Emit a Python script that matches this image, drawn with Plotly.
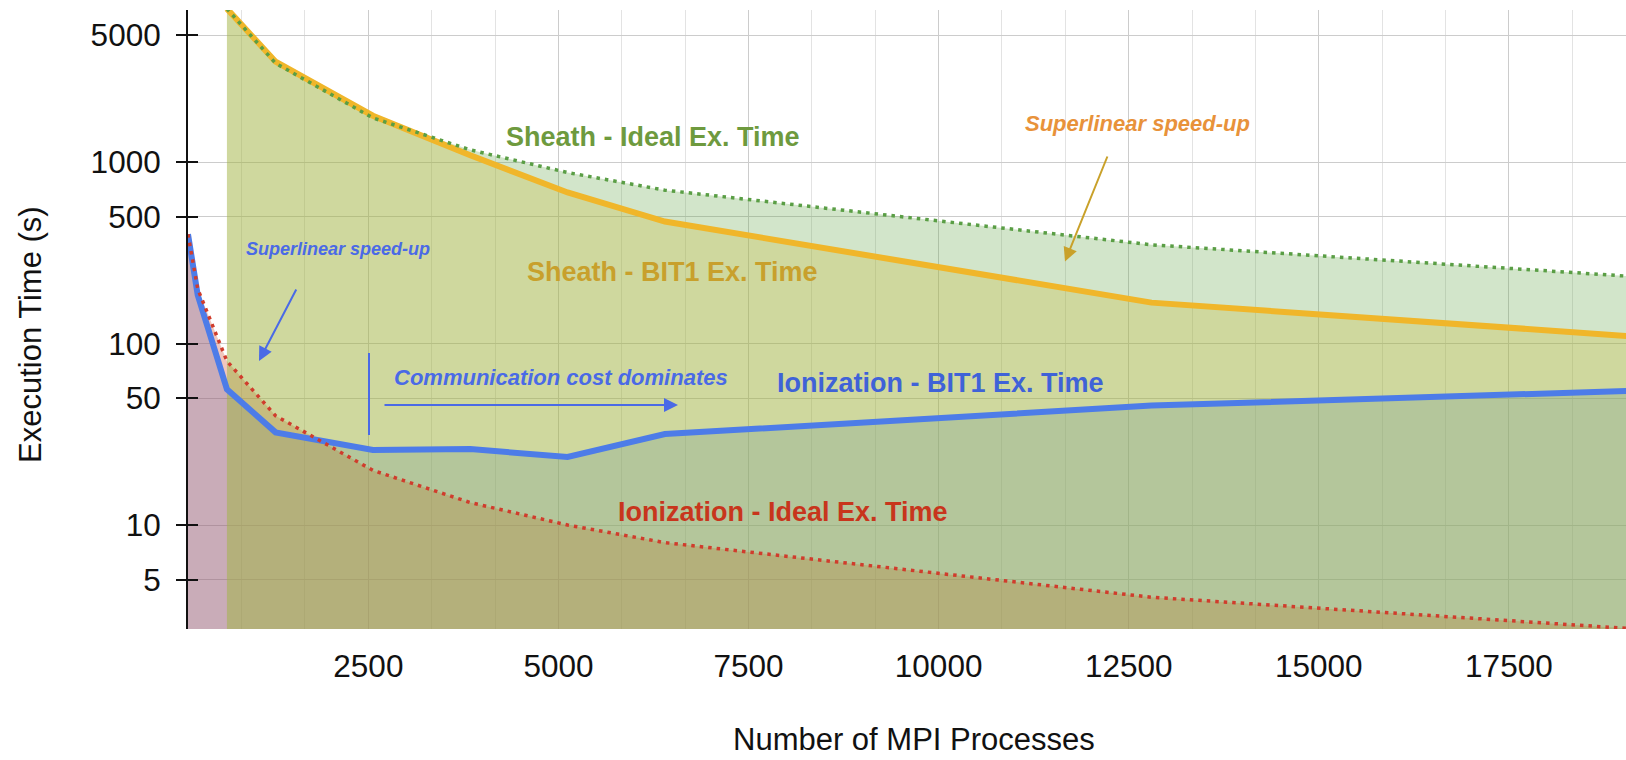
import plotly.graph_objects as go

# ---- data ----
ion_x = [128, 256, 640, 1280, 2560, 3840, 5120, 6400, 12800, 19200]
ion_bit1 = [400, 185, 56, 32.4, 25.9, 26.2, 23.7, 31.7, 45.5, 55]
ion_ideal = [400, 200, 80, 40, 20, 13.3, 10, 8, 4, 2.67]

sheath_x = [640, 1280, 2560, 3840, 5120, 6400, 12800, 19200]
sheath_bit1 = [7000, 3570, 1800, 1090, 680, 470, 168, 109]
sheath_ideal = [7000, 3500, 1750, 1167, 875, 700, 350, 233]

y_ticks = [5, 10, 50, 100, 500, 1000, 5000]
x_ticks = [2500, 5000, 7500, 10000, 12500, 15000, 17500]

FONT = "Liberation Sans, Arial, sans-serif"
TICK_SIZE = 31.5

series = [
    (ion_x, ion_bit1, "rgba(74,134,232,0.3)", "#4d7ce8", 6, "solid"),
    (ion_x, ion_ideal, "rgba(204,65,37,0.3)", "#d03c2c", 3.5, "3.5px,5px"),
    (sheath_x, sheath_bit1, "rgba(241,194,50,0.3)", "#f0b62a", 6, "solid"),
    (sheath_x, sheath_ideal, "rgba(106,168,79,0.3)", "#5a9e45", 3.5, "3.5px,5px"),
]

fig = go.Figure()
# fills first
for xs, ys, fc, lc, lw, dash in series:
    fig.add_trace(go.Scatter(x=xs, y=ys, mode="lines", fill="tozeroy",
                             fillcolor=fc, line=dict(width=0, color=fc),
                             hoverinfo="skip", showlegend=False))
# lines on top (overlay axis with same range)
for xs, ys, fc, lc, lw, dash in series:
    fig.add_trace(go.Scatter(x=xs, y=ys, mode="lines", yaxis="y2",
                             line=dict(width=lw, color=lc, dash=dash),
                             showlegend=False))

XR = [128, 19040]
YR = [0.4271, 3.8377]

fig.update_layout(
    width=1626, height=760,
    margin=dict(l=188, r=0, t=10, b=131),
    paper_bgcolor="white", plot_bgcolor="white",
    font=dict(family=FONT, color="#111111", size=30),
    showlegend=False,
    xaxis=dict(range=XR, tickvals=x_ticks, ticktext=[str(v) for v in x_ticks],
               showgrid=True, gridcolor="#cccccc", gridwidth=1.3,
               minor=dict(tick0=0, dtick=2500 / 3, showgrid=True,
                          gridcolor="#e3e3e3", gridwidth=1.3),
               ticks="", ticklabelstandoff=15, zeroline=False, showline=False,
               tickfont=dict(size=TICK_SIZE, family=FONT, color="#111111")),
    yaxis=dict(type="log", range=YR, tickvals=y_ticks,
               ticktext=[str(v) for v in y_ticks],
               showgrid=True, gridcolor="#cccccc", gridwidth=1.3,
               ticks="outside", ticklen=10, tickwidth=2, tickcolor="#111111",
               showline=True, linecolor="#111111", linewidth=2,
               ticklabelstandoff=9, zeroline=False,
               tickfont=dict(size=TICK_SIZE, family=FONT, color="#111111")),
    yaxis2=dict(type="log", range=YR, overlaying="y", anchor="x", side="left",
                tickvals=y_ticks, showticklabels=False, showgrid=False,
                ticks="inside", ticklen=10, tickwidth=2, tickcolor="#111111",
                showline=False, zeroline=False),
)

def px2paper(px, py):
    return (px - 188) / 1438, (629 - py) / 619

def px2data(px, py):
    x = XR[0] + (px - 188) * (XR[1] - XR[0]) / 1438
    y = YR[1] - (py - 10) * (YR[1] - YR[0]) / 619
    return x, y

annots = []

def label(text, px, py, size, color, italic=False):
    xp, yp = px2paper(px, py)
    t = "<b>" + text + "</b>"
    if italic:
        t = "<i>" + t + "</i>"
    annots.append(dict(text=t, x=xp, y=yp, xref="paper", yref="paper",
                       xanchor="center", yanchor="middle", showarrow=False,
                       font=dict(size=size, color=color, family=FONT)))

label("Sheath - Ideal Ex. Time", 653, 137, 27, "#6e9a3e")
label("Sheath - BIT1 Ex. Time", 672, 272, 27, "#c8a02c")
label("Ionization - BIT1 Ex. Time", 940, 383, 27, "#3f62d8")
label("Ionization - Ideal Ex. Time", 783, 512, 27, "#c8351c")
label("Superlinear speed-up", 338, 249, 18, "#4a6ae6", italic=True)
label("Communication cost dominates", 561, 377, 22, "#4a6ae6", italic=True)
label("Superlinear speed-up", 1137, 123, 22, "#e8923a", italic=True)

def arrow(hx, hy, tx, ty, color):
    x, y = px2data(hx, hy)
    annots.append(dict(text="", x=x, y=y, xref="x", yref="y",
                       ax=tx - hx, ay=ty - hy, axref="pixel", ayref="pixel",
                       showarrow=True, arrowhead=2, arrowsize=1.4,
                       arrowwidth=2, arrowcolor=color))

arrow(259, 361, 297, 288, "#4a6ae6")
arrow(1065, 261.5, 1108, 155, "#c9a12a")
arrow(678, 405, 383, 405, "#4a6ae6")

# axis titles
xp, yp = px2paper(30, 335)
annots.append(dict(text="Execution Time (s)", x=xp, y=yp, xref="paper", yref="paper",
                   textangle=-90, showarrow=False, xanchor="center", yanchor="middle",
                   font=dict(size=31, family=FONT, color="#111111")))
xp, yp = px2paper(914, 739)
annots.append(dict(text="Number of MPI Processes", x=xp, y=yp, xref="paper", yref="paper",
                   showarrow=False, xanchor="center", yanchor="middle",
                   font=dict(size=31, family=FONT, color="#111111")))

vx, _ = px2data(369, 0)
fig.update_layout(annotations=annots, shapes=[
    dict(type="line", xref="x", yref="paper", x0=vx, x1=vx,
         y0=(629 - 435) / 619, y1=(629 - 353) / 619,
         line=dict(color="#4a6ae6", width=2))
])

fig.write_html("out.html")
